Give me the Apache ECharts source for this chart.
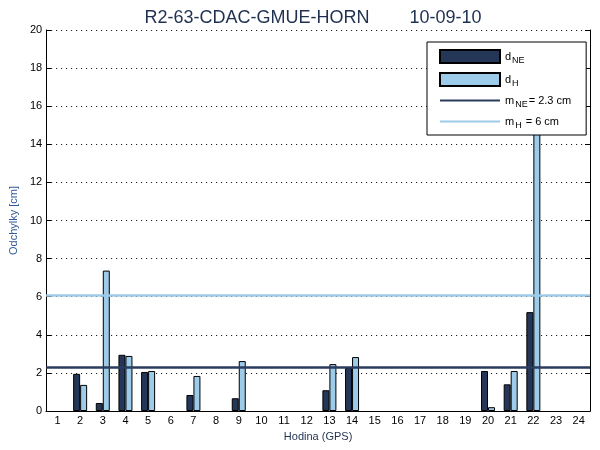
<!DOCTYPE html>
<html>
<head>
<meta charset="utf-8">
<script src="https://cdn.jsdelivr.net/npm/echarts@6/dist/echarts.min.js"></script>
<style>
  html, body { margin: 0; padding: 0; background: #fff; }
  #chart { width: 600px; height: 450px; }
</style>
</head>
<body>
<div id="chart"></div>
<script>
// hodiny (GPS)
const hours = ['1','2','3','4','5','6','7','8','9','10','11','12','13','14','15','16','17','18','19','20','21','22','23','24']
// odchylky d_NE a d_H [cm], null = bez dat
const dNE = [null, 1.95, 0.42, 2.95, 2.05, null, 0.84, null, 0.67, null, null, null, 1.09, 2.26, null, null, null, null, null, 2.1, 1.4, 5.19, null, null]
const dH = [null, 1.37, 7.37, 2.89, 2.1, null, 1.84, null, 2.62, null, null, null, 2.46, 2.83, null, null, null, null, null, 0.2, 2.1, 16, null, null]
// stredne hodnoty
const mNE = 2.3
const mH = 6.06
const yTicks = [0, 20, 2]

const darkBlue = '#243759'
const lightBlue = '#9dcbea'
const font = 'Liberation Sans, Arial, sans-serif'

const chart = echarts.init(document.getElementById('chart'))

const legendNames = {
  dNE: '{t|d}{s|NE}',
  dH: '{t|d}{s|H}',
  mNE: '{t|m}{s|NE}{t|= ' + mNE + ' cm}',
  mH: '{t|m}{s|H}{t| = ' + Math.round(mH) + ' cm}'
}

const hidden = { opacity: 0, color: 'transparent', borderColor: 'transparent' }

const option = {
  animation: false,
  textStyle: { fontFamily: font },
  title: {
    text: 'R2-63-CDAC-GMUE-HORN        10-09-10',
    left: 308,
    textAlign: 'center',
    top: 4,
    textStyle: { fontSize: 18, fontWeight: 'normal', color: '#1f3050', fontFamily: font }
  },
  grid: { left: 39, right: 10, top: 30, bottom: 39 },
  legend: {
    orient: 'vertical',
    left: 427,
    top: 42,
    padding: [7, 15, 5, 12],
    itemGap: 7,
    itemWidth: 60,
    itemHeight: 13,
    backgroundColor: '#fff',
    borderColor: '#000',
    borderWidth: 1,
    borderRadius: 0,
    z: 20,
    data: [
      { name: 'dNE', icon: 'rect' },
      { name: 'dH', icon: 'rect' },
      { name: 'mNE', itemStyle: hidden },
      { name: 'mH', itemStyle: hidden }
    ],
    formatter: (name) => legendNames[name],
    textStyle: {
      rich: {
        t: { fontSize: 11, color: '#000', fontFamily: font },
        s: { fontSize: 9, color: '#000', fontFamily: font, padding: [8, 1, 0, 1] }
      }
    }
  },
  xAxis: [
    {
      type: 'category',
      data: hours,
      name: 'Hodina (GPS)',
      nameLocation: 'middle',
      nameGap: 20,
      nameTextStyle: { fontSize: 11, color: '#1f3050' },
      axisLine: { lineStyle: { color: '#000', width: 1 } },
      axisTick: { inside: true, alignWithLabel: true, length: 5, lineStyle: { color: '#000' } },
      axisLabel: { fontSize: 11, color: '#000', margin: 4 },
      splitLine: { show: false }
    },
    {
      type: 'category',
      data: hours,
      position: 'top',
      axisLine: { lineStyle: { color: '#000', width: 1 } },
      axisTick: { inside: true, alignWithLabel: true, length: 5, lineStyle: { color: '#000' } },
      axisLabel: { show: false },
      splitLine: { show: false }
    }
  ],
  yAxis: [
    {
      type: 'value',
      min: yTicks[0],
      max: yTicks[1],
      interval: yTicks[2],
      name: 'Odchylky [cm]',
      nameLocation: 'middle',
      nameGap: 24,
      nameTextStyle: { fontSize: 11, color: '#2f5a96' },
      axisLine: { show: true, lineStyle: { color: '#000', width: 1 } },
      axisTick: { show: true, inside: true, length: 5, lineStyle: { color: '#000' } },
      axisLabel: { fontSize: 11, color: '#000', margin: 4 },
      splitLine: { show: true, lineStyle: { color: '#000', width: 1, type: [1, 4] } }
    },
    {
      type: 'value',
      min: yTicks[0],
      max: yTicks[1],
      interval: yTicks[2],
      position: 'right',
      axisLine: { show: true, lineStyle: { color: '#000', width: 1 } },
      axisTick: { show: true, inside: true, length: 5, lineStyle: { color: '#000' } },
      axisLabel: { show: false },
      splitLine: { show: false }
    }
  ],
  series: [
    {
      name: 'dNE',
      type: 'bar',
      data: dNE,
      barWidth: 7,
      barGap: '0%',
      itemStyle: { color: darkBlue, borderColor: '#000', borderWidth: 1 }
    },
    {
      name: 'dH',
      type: 'bar',
      data: dH,
      barWidth: 7,
      barGap: '0%',
      itemStyle: { color: lightBlue, borderColor: '#000', borderWidth: 1 }
    },
    {
      name: 'mNE',
      type: 'line',
      data: [],
      symbol: 'none',
      color: '#2b3d5e',
      lineStyle: { color: '#2b3d5e', width: 3 },
      markLine: {
        silent: true,
        symbol: 'none',
        label: { show: false },
        lineStyle: { color: '#2b3d5e', width: 2.5, type: 'solid' },
        data: [{ yAxis: mNE }],
        z: 10
      }
    },
    {
      name: 'mH',
      type: 'line',
      data: [],
      symbol: 'none',
      color: lightBlue,
      lineStyle: { color: lightBlue, width: 3 },
      markLine: {
        silent: true,
        symbol: 'none',
        label: { show: false },
        lineStyle: { color: lightBlue, width: 2.5, type: 'solid' },
        data: [{ yAxis: mH }],
        z: 10
      }
    }
  ]
}

chart.setOption(option)
</script>
</body>
</html>
